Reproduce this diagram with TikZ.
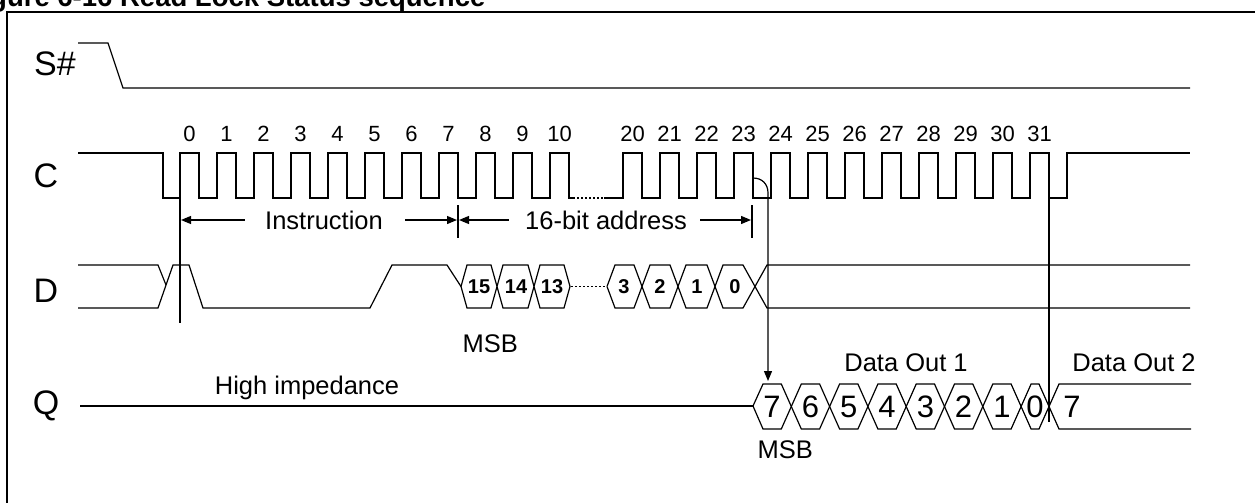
\documentclass[tikz,border=0pt]{standalone}
\usepackage{fontspec}
\setmainfont{Liberation Sans}
\usetikzlibrary{arrows.meta}
\begin{document}
\begin{tikzpicture}[x=1pt,y=-1pt,line width=1.2pt,line join=miter,
 lbl/.style={inner sep=0pt,font=\fontsize{34}{40}\selectfont},
 num/.style={inner sep=0pt,font=\fontsize{22}{26}\selectfont},
 txt/.style={inner sep=0pt,font=\fontsize{25.5}{30}\selectfont},
 bit/.style={inner sep=0pt,font=\bfseries\fontsize{20}{24}\selectfont},
 qbit/.style={inner sep=0pt,font=\fontsize{31}{36}\selectfont},
 arr/.style={-{Triangle[length=10pt,width=8pt]}},
 dots/.style={dash pattern=on 2pt off 2pt}]
\useasboundingbox (0,0) rectangle (1255,503);
\clip (0,0) rectangle (1255,503);
\fill[white] (0,0) rectangle (1255,503);
% title and frame
\node[anchor=base east,inner sep=0pt,font=\bfseries\fontsize{27.5}{32}\selectfont] (title) at (486,7) {Figure 6-16 Read Lock Status sequence};
\draw[line width=2pt] (7,520) -- (7,12) -- (1270,12);
% signal labels
\node[lbl] (lS) at (55,64) {S\#};
\node[lbl] (lC) at (46,176) {C};
\node[lbl] (lD) at (46,291) {D};
\node[lbl] (lQ) at (46,406) {Q};
% S#
\draw (78,43) -- (108,43) -- (123,88) -- (1190,88);
% C clock
\draw (78,153) -- (163,153) -- (163,198) -- (180,198)
  \foreach \k in {0,...,10} { -- ({180+37*\k},198) -- ({180+37*\k},153) -- ({199+37*\k},153) -- ({199+37*\k},198) } -- (573,198);
\draw[dots] (573,198) -- (604,198);
\draw (604,198) -- (623,198)
  \foreach \k in {0,...,11} { -- ({623+37*\k},198) -- ({623+37*\k},153) -- ({642+37*\k},153) -- ({642+37*\k},198) } -- (1067,198) -- (1067,153) -- (1190,153);
\foreach \k in {0,...,10} \node[num] (c\k) at ({189.5+37*\k},134) {\k};
\foreach \k in {20,...,31} \node[num] (c\k) at ({632.5+37*(\k-20)},134) {\k};
% reference lines
\draw (180,153) -- (180,323);
\draw (458,205) -- (458,238);
\draw (752,205) -- (752,238);
\draw (1049,153) -- (1049,422);
% arrows with labels
\node[txt] (instr) at (324,220) {Instruction};
\node[txt] (addr) at (606,220) {16-bit address};
\draw[arr] (instr.west) ++(-20,0) -- (181,220);
\draw[arr] (instr.east) ++(22,0) -- (457,220);
\draw[arr] (addr.west) ++(-16,0) -- (459,220);
\draw[arr] (addr.east) ++(13,0) -- (751,220);
% D
\draw (78,265) -- (158,265) -- (166,285);
\draw (78,308) -- (158,308) -- (173,265) -- (189,265) -- (203,308) -- (370,308) -- (392,265) -- (447,265) -- (461,286.5);
% D bits group 1 (w=6)
\draw (461,286.5) -- (467,265) -- (491,265) -- (503,308) -- (528,308) -- (540,265) -- (564,265) -- (570,286.5)
      -- (564,308) -- (540,308) -- (528,265) -- (503,265) -- (491,308) -- (467,308) -- cycle;
\draw[dots] (571,286.5) -- (605,286.5);
% D bits group 2 (w=8)
\draw (607,286.5) -- (615,265) -- (634,265) -- (650,308) -- (670,308) -- (686,265) -- (707,265) -- (723,308) -- (743,308) -- (767,265) -- (1190,265);
\draw (607,286.5) -- (615,308) -- (634,308) -- (650,265) -- (670,265) -- (686,308) -- (707,308) -- (723,265) -- (743,265) -- (767,308) -- (1190,308);
\foreach \b/\x in {15/479,14/516,13/552,3/624,2/660,1/697,0/735} \node[bit] (d\b) at (\x,287) {\b};
\node[txt,anchor=base west] (msbD) at (462,352) {MSB};
% C -> Q arrow
\draw[arr] (753,178) .. controls (762,178) and (768,184) .. (768,193) -- (768,381);
% Q
\draw (80,406) -- (753,406);
\node[txt,anchor=base] (hiz) at (307,394) {High impedance};
\draw (753,406) -- (763,384) -- (781.3,384) -- (801.3,429) -- (819.6,429) -- (839.6,384) -- (857.9,384) -- (877.9,429) -- (896.2,429) -- (916.2,384) -- (934.5,384) -- (954.5,429) -- (972.8,429) -- (992.8,384) -- (1011.1,384) -- (1031.1,429) -- (1039,429) -- (1059,384) -- (1191,384);
\draw (753,406) -- (763,429) -- (781.3,429) -- (801.3,384) -- (819.6,384) -- (839.6,429) -- (857.9,429) -- (877.9,384) -- (896.2,384) -- (916.2,429) -- (934.5,429) -- (954.5,384) -- (972.8,384) -- (992.8,429) -- (1011.1,429) -- (1031.1,384) -- (1039,384) -- (1059,429) -- (1191,429);
\foreach \i/\b/\x in {a/7/772,b/6/810.5,c/5/848.8,d/4/887,e/3/925.4,f/2/963.6,g/1/1002,h/0/1035,i/7/1072} \node[qbit] (q\i) at (\x,407) {\b};
\node[txt] (do1) at (906,363) {Data Out 1};
\node[txt] (do2) at (1134,363) {Data Out 2};
\node[txt,anchor=base west] (msbQ) at (757,458) {MSB};
\end{tikzpicture}
\end{document}
